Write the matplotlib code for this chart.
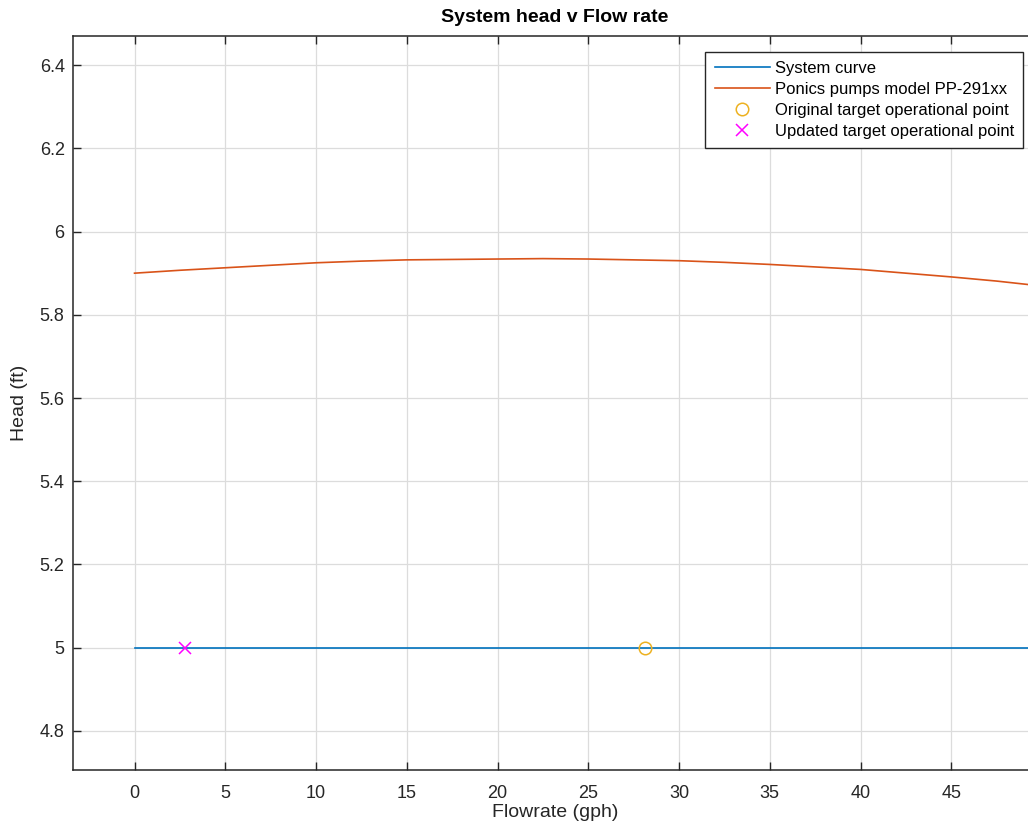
import matplotlib.pyplot as plt

# values
flow_sys = [0, 49.8]
head_sys = [5.0, 5.0]

flow_pump = [0, 2.5, 5, 7.5, 10, 12.5, 15, 17.5, 20, 22.5, 25, 27.5, 30,
             32.5, 35, 37.5, 40, 42.5, 45, 47.5, 49.8]
head_pump = [5.900, 5.907, 5.913, 5.919, 5.925, 5.929, 5.932, 5.933, 5.934, 5.935, 5.934,
             5.932, 5.930, 5.926, 5.921, 5.915, 5.909, 5.900, 5.891, 5.881, 5.870]

orig_pt = (28.1, 5.0)
upd_pt = (2.8, 5.0)

plt.rcParams['font.family'] = ['Liberation Sans', 'DejaVu Sans']
dark = '#262626'

fig = plt.figure(figsize=(10.28, 8.33), dpi=100)
ax = fig.add_axes([73 / 1028, 63 / 833, 964 / 1028, 734 / 833])

ax.plot(flow_sys, head_sys, color='#0072BD', lw=1.2, label='System curve')
ax.plot(flow_pump, head_pump, color='#D95319', lw=1.2, label='Ponics pumps model PP-291xx')
ax.plot([orig_pt[0]], [orig_pt[1]], 'o', mfc='none', mec='#EDB120', ms=9, mew=1.1,
        label='Original target operational point')
ax.plot([upd_pt[0]], [upd_pt[1]], 'x', color='#FF00FF', ms=8, mew=1.1,
        label='Updated target operational point')

ax.set_xlim(-3.39, 49.72)
ax.set_ylim(4.706, 6.47)
ax.set_xticks(range(0, 50, 5))
ax.set_yticks([4.8, 5, 5.2, 5.4, 5.6, 5.8, 6, 6.2, 6.4])
ax.set_yticklabels(['4.8', '5', '5.2', '5.4', '5.6', '5.8', '6', '6.2', '6.4'])

ax.grid(True, color='#dcdcdc', lw=0.9)
ax.set_axisbelow(True)
ax.tick_params(direction='in', top=True, right=False, length=6, width=1,
               colors=dark, labelsize=13)
ax.tick_params(axis='x', pad=11)
ax.tick_params(axis='y', pad=6)
for s in ['left', 'bottom', 'top']:
    ax.spines[s].set_color(dark)
    ax.spines[s].set_linewidth(1.1)
ax.spines['right'].set_visible(False)

ax.set_xlabel('Flowrate (gph)', fontsize=14, color=dark, va='center')
ax.set_ylabel('Head (ft)', fontsize=14, color=dark, va='center')
ax.xaxis.set_label_coords(0.5, -0.058)
ax.yaxis.set_label_coords(-0.056, 0.5)
ax.set_title('System head v Flow rate', fontsize=14, fontweight='bold', color='black', pad=10)

leg = ax.legend(loc='upper right', bbox_to_anchor=(0.9855, 0.978), borderaxespad=0,
                fontsize=12, handlelength=3.3, handletextpad=0.3, labelspacing=0.35,
                borderpad=0.55, fancybox=False, framealpha=1, edgecolor=dark)
leg.get_frame().set_linewidth(1.0)

fig.savefig('out.png', dpi=100)
